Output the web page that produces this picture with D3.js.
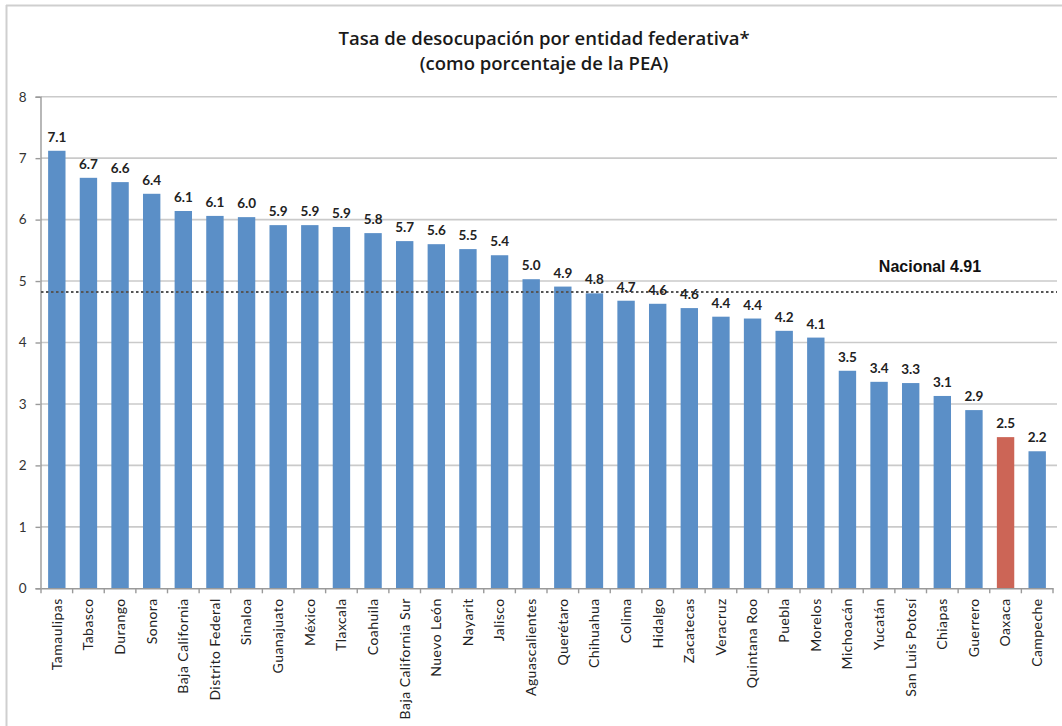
<!DOCTYPE html>
<html><head><meta charset="utf-8">
<script src="https://cdn.jsdelivr.net/npm/d3@7"></script>
<style>body{margin:0;background:#fff}svg{display:block}</style>
</head><body>
<svg id="c" width="1062" height="726"></svg>
<script>
const categories = ["Tamaulipas","Tabasco","Durango","Sonora","Baja California","Distrito Federal","Sinaloa","Guanajuato","México","Tlaxcala","Coahuila","Baja California Sur","Nuevo León","Nayarit","Jalisco","Aguascalientes","Querétaro","Chihuahua","Colima","Hidalgo","Zacatecas","Veracruz","Quintana Roo","Puebla","Morelos","Michoacán","Yucatán","San Luis Potosí","Chiapas","Guerrero","Oaxaca","Campeche"];
const values = [7.12,6.68,6.61,6.42,6.14,6.06,6.04,5.91,5.91,5.88,5.78,5.65,5.60,5.52,5.42,5.03,4.91,4.80,4.68,4.63,4.56,4.42,4.39,4.19,4.08,3.54,3.36,3.34,3.13,2.90,2.46,2.23];
const highlighted = ["Oaxaca"];
const yTicks = [0,1,2,3,4,5,6,7,8];
const nationalLine = 4.82;
const nationalLabel = "Nacional 4.91";
const titleLines = ["Tasa de desocupación por entidad federativa*","(como porcentaje de la PEA)"];

(function(){
const svg = d3.select("#c");
const mLeft = 41, mRight = 1053, mTop = 96.7, mBottom = 588.3;

// frame
svg.append("line").attr("x1",6).attr("x2",1062).attr("y1",5.5).attr("y2",5.5).attr("stroke","#cfcfcf").attr("stroke-width",2);
svg.append("line").attr("x1",6.5).attr("x2",6.5).attr("y1",5).attr("y2",726).attr("stroke","#cfcfcf").attr("stroke-width",2);

const x = d3.scaleBand().domain(categories).range([mLeft,mRight]).paddingInner(0.45).paddingOuter(0.225);
const y = d3.scaleLinear().domain([0,8]).range([mBottom,mTop]);

// grid
svg.append("g").selectAll("line").data(yTicks.filter(d=>d>0)).join("line")
  .attr("x1",mLeft).attr("x2",1057).attr("y1",d=>y(d)).attr("y2",d=>y(d))
  .attr("stroke","#cacaca").attr("stroke-width",1.6);

// y axis
const ya = svg.append("g").attr("transform",`translate(${mLeft-0.5},0)`)
  .call(d3.axisLeft(y).tickValues(yTicks).tickSize(5).tickPadding(9).tickFormat(d3.format("d")));
ya.select(".domain").attr("stroke","#9a9a9a").attr("stroke-width",1.4);
ya.selectAll(".tick line").attr("stroke","#9a9a9a").attr("stroke-width",1.4);
ya.selectAll("text").attr("font-family","Lato, 'Open Sans', sans-serif").attr("font-size",13.5).attr("fill","#333");

// bars
svg.append("g").selectAll("rect").data(categories).join("rect")
  .attr("x",d=>x(d)).attr("width",x.bandwidth())
  .attr("y",(d,i)=>y(values[i])).attr("height",(d,i)=>y(0)-y(values[i]))
  .attr("fill",d=>highlighted.includes(d)?"#cc6556":"#5b8fc7");

// x axis
const xa = svg.append("g").attr("transform",`translate(0,${mBottom})`)
  .call(d3.axisBottom(x).tickSize(0).tickPadding(0));
xa.select(".domain").attr("stroke","#9a9a9a").attr("stroke-width",1.4);
const bounds = categories.map(d=>x(d)-x.step()*x.paddingInner()/2).concat([mRight]);
svg.append("g").selectAll("line").data(bounds).join("line")
  .attr("x1",d=>d).attr("x2",d=>d).attr("y1",mBottom).attr("y2",mBottom+5)
  .attr("stroke","#9a9a9a").attr("stroke-width",1.4);
xa.selectAll(".tick text")
  .attr("font-family","Lato, 'Open Sans', sans-serif").attr("font-size",14).attr("letter-spacing","0.45px").attr("fill","#222")
  .attr("text-anchor","end").attr("dy","0.35em")
  .attr("transform","translate(0,10) rotate(-90)").attr("x",0).attr("y",0);

// national line
svg.append("line").attr("x1",mLeft).attr("x2",1057).attr("y1",y(nationalLine)).attr("y2",y(nationalLine))
  .attr("stroke","#555").attr("stroke-width",2).attr("stroke-dasharray","2.5,2.5");
svg.append("text").attr("x",930).attr("y",y(nationalLine)-20).attr("text-anchor","middle")
  .attr("font-family","'Liberation Sans', Arial, sans-serif").attr("font-weight","bold").attr("font-size",16)
  .attr("fill","#111").text(nationalLabel);

// value labels
svg.append("g").selectAll("text").data(categories).join("text")
  .attr("x",d=>x(d)+x.bandwidth()/2).attr("y",(d,i)=>y(values[i])-9)
  .attr("text-anchor","middle").attr("font-family","Lato, 'Open Sans', sans-serif")
  .attr("font-weight","bold").attr("font-size",13.5).attr("fill","#222")
  .text((d,i)=>d3.format(".1f")(values[i]));

// title
svg.append("g").selectAll("text").data(titleLines).join("text")
  .attr("x",544).attr("y",(d,i)=>45+i*25).attr("text-anchor","middle")
  .attr("font-family","'Open Sans', Lato, sans-serif").attr("font-weight",600).attr("font-size",18.5)
  .attr("fill","#1a1a1a").text(d=>d);
})();
</script>
</body></html>
